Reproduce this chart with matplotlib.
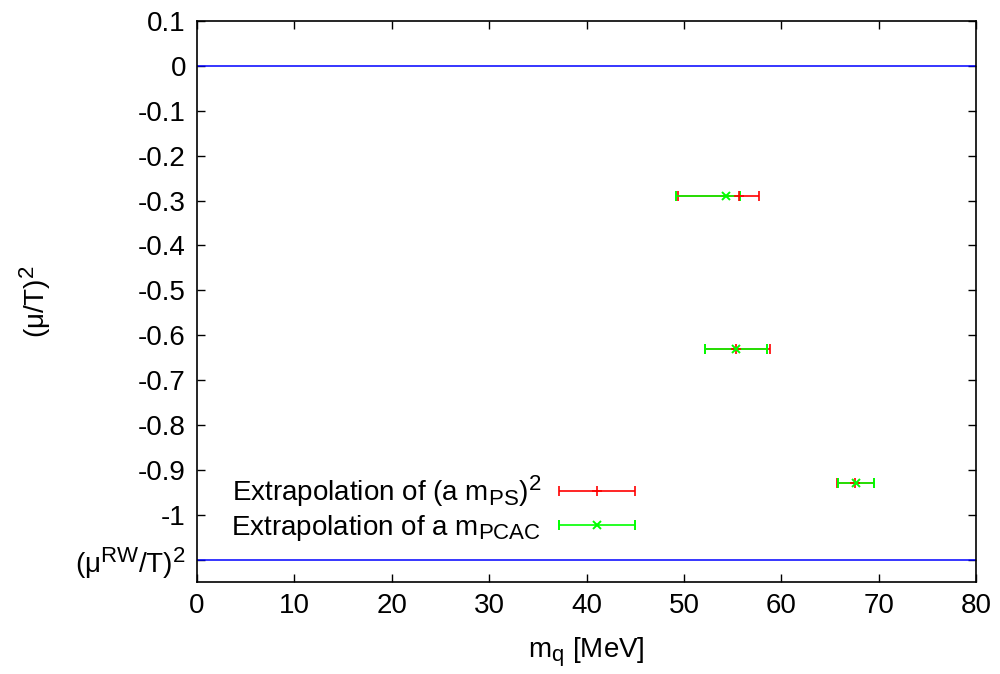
import matplotlib
matplotlib.use("Agg")
from matplotlib import pyplot as plt
from matplotlib import _mathtext
from matplotlib.legend_handler import HandlerErrorbar
from matplotlib.container import ErrorbarContainer

plt.rcParams['font.family'] = ['Liberation Sans', 'DejaVu Sans']
plt.rcParams['mathtext.default'] = 'regular'
plt.rcParams['font.size'] = 20
_mathtext.SHRINK_FACTOR = 0.8  # gnuplot-like bigger sub/superscripts

# data
mu2 = [-0.29, -0.63, -0.93]
mq_ps = [55.65, 55.4, 67.55]
mq_ps_lo = [49.4, 52.2, 65.7]
mq_ps_hi = [57.7, 58.8, 69.5]
mq_pcac = [54.3, 55.4, 67.7]
mq_pcac_lo = [49.2, 52.2, 65.8]
mq_pcac_hi = [55.75, 58.55, 69.5]
mu_rw = -1.1

yticks = [0.1, 0, -0.1, -0.2, -0.3, -0.4, -0.5, -0.6, -0.7, -0.8, -0.9, -1, -1.1]
yticklabels = ['0.1', '0', '-0.1', '-0.2', '-0.3', '-0.4', '-0.5', '-0.6',
               '-0.7', '-0.8', '-0.9', '-1', r'(μ$^{RW}$/T)$^2$']
xticks = [0, 10, 20, 30, 40, 50, 60, 70, 80]

fig = plt.figure(figsize=(10, 6.74), dpi=100)
ax = fig.add_axes([0.197, 0.1365, 0.779, 0.8323])

ax.axhline(0, color='#0000ff', lw=1.1)
ax.axhline(mu_rw, color='#0000ff', lw=1.1)

err_ps = [[c - l for c, l in zip(mq_ps, mq_ps_lo)], [h - c for c, h in zip(mq_ps, mq_ps_hi)]]
err_pcac = [[c - l for c, l in zip(mq_pcac, mq_pcac_lo)], [h - c for c, h in zip(mq_pcac, mq_pcac_hi)]]

ax.errorbar(mq_ps, mu2, xerr=err_ps, fmt='+', color='#ff0000', ms=7, mew=1.2,
            elinewidth=1.2, capsize=3.3, capthick=1.2,
            label=r'Extrapolation of (a m$_{PS}$)$^2$')
ax.errorbar(mq_pcac, mu2, xerr=err_pcac, fmt='x', color='#00ff00', ms=6, mew=1.4,
            elinewidth=1.2, capsize=3.3, capthick=1.2,
            label=r'Extrapolation of a m$_{PCAC}$')

ax.set_xlim(0, 80)
ax.set_ylim(-1.15, 0.1)
ax.set_xticks(xticks)
ax.set_yticks(yticks)
ax.set_yticklabels(yticklabels)
ax.tick_params(direction='in', top=True, right=True, length=6, width=1, pad=8)
for s in ax.spines.values():
    s.set_linewidth(1.2)

ax.set_xlabel(r'm$_q$ [MeV]', labelpad=12)
ax.set_ylabel(r'(μ/T)$^2$', labelpad=16)

ax.legend(loc='lower left', bbox_to_anchor=(0.03, 0.05), frameon=False,
          markerfirst=False, handlelength=2.8, handletextpad=0.6,
          labelspacing=0.15, borderaxespad=0,
          handler_map={ErrorbarContainer: HandlerErrorbar(xerr_size=1.38)})

fig.savefig('out.png', dpi=100)
